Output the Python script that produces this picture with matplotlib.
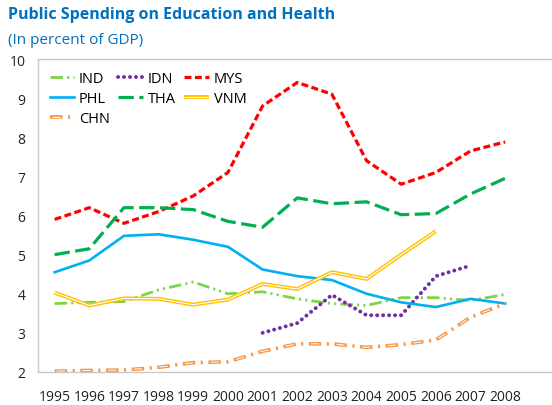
import matplotlib
matplotlib.use("Agg")
import matplotlib.pyplot as plt
from matplotlib.legend_handler import HandlerTuple

plt.rcParams['font.family'] = ['Open Sans', 'DejaVu Sans']
plt.rcParams['lines.scale_dashes'] = False

years = list(range(1995, 2009))

ind = [3.75, 3.78, 3.80, 4.10, 4.30, 4.00, 4.05, 3.87, 3.75, 3.70, 3.90, 3.90, 3.83, 3.98]
idn_years = list(range(2001, 2008))
idn = [3.00, 3.25, 3.97, 3.45, 3.45, 4.45, 4.72]
mys = [5.90, 6.20, 5.80, 6.10, 6.50, 7.10, 8.80, 9.40, 9.10, 7.40, 6.80, 7.10, 7.65, 7.88]
phl = [4.55, 4.85, 5.48, 5.52, 5.38, 5.20, 4.62, 4.45, 4.35, 4.00, 3.78, 3.66, 3.87, 3.75]
tha = [5.00, 5.15, 6.20, 6.20, 6.15, 5.85, 5.70, 6.45, 6.30, 6.35, 6.02, 6.05, 6.55, 6.95]
vnm_years = list(range(1995, 2007))
vnm = [4.03, 3.70, 3.88, 3.87, 3.72, 3.85, 4.25, 4.12, 4.55, 4.38, 5.00, 5.60]
chn = [2.02, 2.04, 2.05, 2.12, 2.24, 2.26, 2.53, 2.72, 2.72, 2.63, 2.70, 2.82, 3.40, 3.75]

blue = '#0070C0'

fig = plt.figure(figsize=(5.52, 4.06), dpi=100)
ax = fig.add_axes([38 / 552, 1 - 373 / 406, 1 - 38 / 552, (373 - 60) / 406])

# single lines
l_ind, = ax.plot(years, ind, color='#7ED348', lw=2.0, dashes=(9, 3, 1.5, 3, 1.5, 3), label='IND')
l_idn, = ax.plot(idn_years, idn, color='#7030A0', lw=2.8, dashes=(0.1, 4.2),
                 dash_capstyle='round', label='IDN')
l_mys, = ax.plot(years, mys, color='#FF0000', lw=2.3, dashes=(5, 2.5), label='MYS')
l_phl, = ax.plot(years, phl, color='#00B0F0', lw=1.9, label='PHL')
l_tha, = ax.plot(years, tha, color='#00B050', lw=2.3, dashes=(11, 4), label='THA')

# double lines: coloured outer line with a white core
v_out, = ax.plot(vnm_years, vnm, color='#FFC000', lw=2.8, solid_capstyle='butt')
v_in, = ax.plot(vnm_years, vnm, color='white', lw=0.8, solid_capstyle='butt')
c_out, = ax.plot(years, chn, color='#F79646', lw=2.6, dashes=(9, 4, 1.5, 4))
c_in, = ax.plot(years, chn, color='white', lw=0.7, linestyle=(17, (6, 12.5)))

ax.set_xlim(1994.52, 2009.35)
ax.set_ylim(2, 10)
ax.set_xticks(years)
ax.set_yticks(range(2, 11))
ax.tick_params(length=0, labelsize=10, colors='#222222')
ax.tick_params(axis='x', pad=12)
ax.tick_params(axis='y', pad=9)
for s in ['left', 'bottom', 'top']:
    ax.spines[s].set_color('#C8C8C8')
    ax.spines[s].set_linewidth(1.0)
ax.spines['right'].set_visible(False)

handles = [l_ind, l_phl, (c_out, c_in), l_idn, l_tha, l_mys, (v_out, v_in)]
labels = ['IND', 'PHL', 'CHN', 'IDN', 'THA', 'MYS', 'VNM']
ax.legend(handles, labels, ncol=3, loc='upper left', frameon=False,
          fontsize=10.5, handlelength=1.7, handletextpad=0.3, columnspacing=0.6,
          labelspacing=0.35, borderaxespad=0.4,
          handler_map={tuple: HandlerTuple(ndivide=1)})

fig.text(8 / 552, 1 - 15 / 406, 'Public Spending on Education and Health', color=blue,
         fontsize=11.5, fontweight='bold', va='center')
fig.text(8 / 552, 1 - 40 / 406, '(In percent of GDP)', color=blue, fontsize=11, va='center')

fig.savefig('out.png', dpi=100)
